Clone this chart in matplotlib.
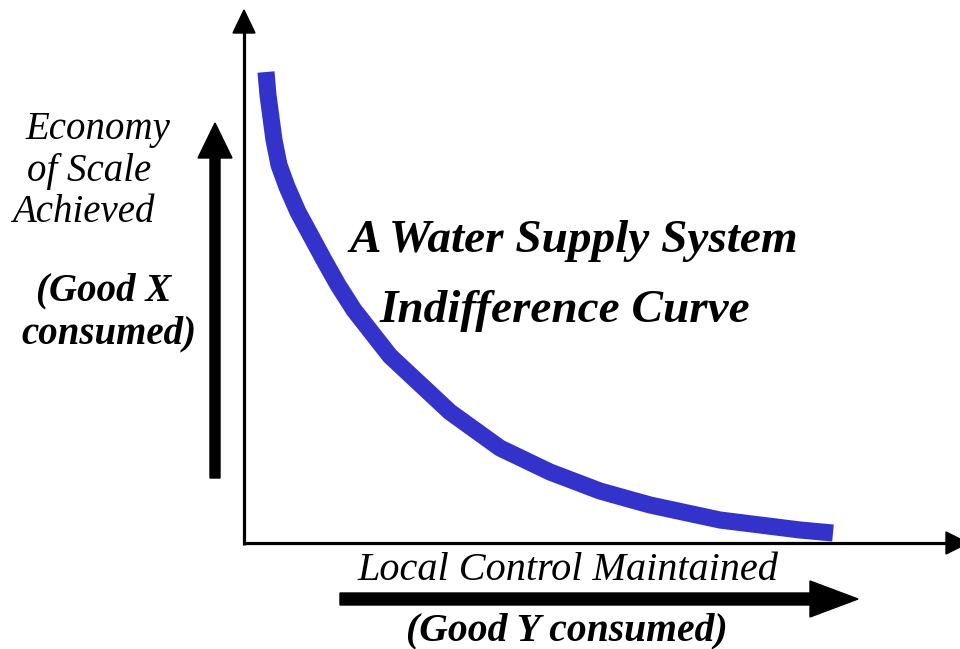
import matplotlib
matplotlib.use("Agg")
import matplotlib.pyplot as plt
from matplotlib.patches import FancyArrow, Polygon

# Indifference curve (arbitrary units, 0-100 on each axis)
curve_x = [3.07, 3.35, 3.63, 4.19, 4.89, 6.01, 7.54, 9.36, 11.17, 13.13, 15.36,
           20.39, 28.77, 35.75, 42.74, 49.72, 56.70, 66.48, 77.65, 82.26]
curve_y = [88.70, 84.37, 81.54, 75.89, 71.19, 67.04, 62.34, 57.81, 53.30, 48.59, 43.88,
           35.22, 24.67, 17.89, 13.37, 9.79, 7.16, 4.33, 2.45, 1.88]

W, H = 960, 649
fig = plt.figure(figsize=(W / 100, H / 100), dpi=100)
fig.patch.set_facecolor("white")

# overlay in pixel coordinates for annotations
ov = fig.add_axes([0, 0, 1, 1])
ov.set_xlim(0, W)
ov.set_ylim(H, 0)
ov.axis("off")

# main plotting axes
ox, oy = 244, 543
ax = fig.add_axes([ox / W, (H - oy) / H, (W - ox) / W, (oy - 12) / H])
ax.set_xlim(0, 100)
ax.set_ylim(0, 100)
ax.axis("off")
ax.patch.set_alpha(0)
ax.plot(curve_x, curve_y, color="#3333cc", lw=12.3, solid_capstyle="butt",
        solid_joinstyle="round")

# axes lines with arrowheads
ov.plot([ox, ox], [oy + 1.5, 30], color="black", lw=2.3, solid_capstyle="butt")
ov.add_patch(Polygon([[ox - 11, 33], [ox + 11, 33], [ox, 10]], closed=True, color="black"))
ov.plot([ox - 1.5, 948], [oy, oy], color="black", lw=2.3, solid_capstyle="butt")
ov.add_patch(Polygon([[946, oy - 11], [946, oy + 11], [968, oy]], closed=True, color="black"))

# left big arrow
ov.add_patch(FancyArrow(215, 478, 0, -355, width=10, head_width=34, head_length=35,
                        length_includes_head=True, color="black"))
# bottom big arrow
ov.add_patch(FancyArrow(340, 599, 518, 0, width=12, head_width=36, head_length=48,
                        length_includes_head=True, color="black"))

serif = ["Liberation Serif", "DejaVu Serif"]
kw_it = dict(family=serif, style="italic", fontsize=28, va="center")
kw_bi = dict(family=serif, style="italic", weight="bold", fontsize=28, va="center")

ov.text(25, 129, "Economy", ha="left", **kw_it)
ov.text(27, 171, "of Scale", ha="left", **kw_it)
ov.text(12, 213, "Achieved", ha="left", **kw_it)
ov.text(104, 291, "(Good X", ha="center", **kw_bi)
ov.text(109, 334, "consumed)", ha="center", **kw_bi)

ov.text(574, 241, "A Water Supply System", ha="center",
        **{**kw_bi, "fontsize": 34})
ov.text(565, 311, "Indifference Curve", ha="center",
        **{**kw_bi, "fontsize": 34})

ov.text(568, 570, "Local Control Maintained", ha="center", **{**kw_it, "fontsize": 29})
ov.text(567, 631, "(Good Y consumed)", ha="center", **{**kw_bi, "fontsize": 28.5})

fig.savefig("out.png", dpi=100, facecolor="white")
